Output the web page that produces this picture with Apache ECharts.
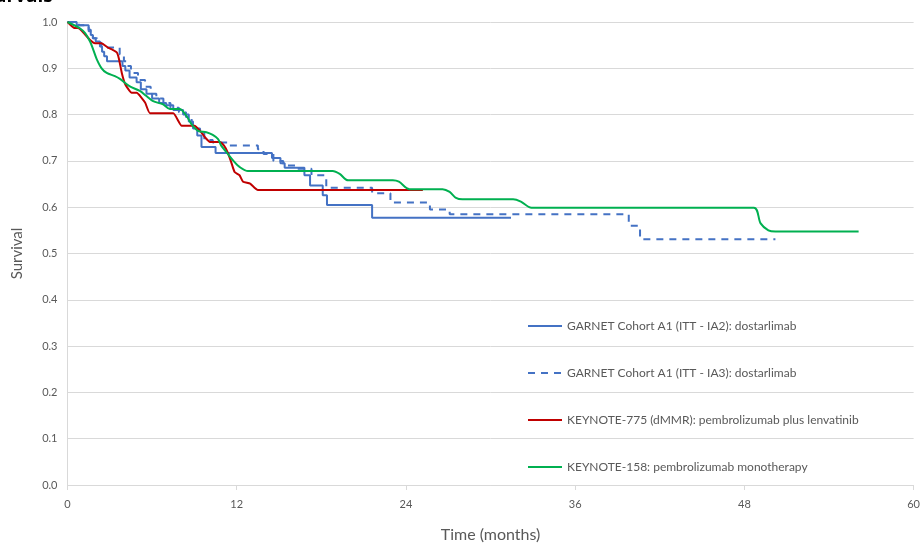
<!DOCTYPE html>
<html>
<head>
<meta charset="utf-8">
<script src="https://cdn.jsdelivr.net/npm/echarts@6/dist/echarts.min.js"></script>
<style>html,body{margin:0;padding:0;background:#fff;}#c{width:923px;height:548px;}</style>
</head>
<body>
<div id="c"></div>
<script>
var seriesNames = [
  'GARNET Cohort A1 (ITT - IA2): dostarlimab',
  'GARNET Cohort A1 (ITT - IA3): dostarlimab',
  'KEYNOTE-775 (dMMR): pembrolizumab plus lenvatinib',
  'KEYNOTE-158: pembrolizumab monotherapy'
];
var xTicks = [0, 12, 24, 36, 48, 60];
var yTicks = [0, 0.1, 0.2, 0.3, 0.4, 0.5, 0.6, 0.7, 0.8, 0.9, 1.0];

var garnetIA2 = [[0,1],[0.65,0.993],[1.5,0.983],[1.65,0.972],[1.8,0.965],[2.0,0.958],[2.3,0.947],[2.45,0.936],[2.6,0.926],[2.8,0.915],[3.9,0.905],[4.1,0.895],[4.4,0.88],[4.9,0.87],[5.2,0.855],[5.6,0.845],[6.0,0.835],[6.5,0.825],[7.0,0.82],[7.5,0.81],[8.2,0.8],[8.6,0.785],[8.9,0.77],[9.2,0.755],[9.5,0.73],[10.5,0.717],[14.5,0.706],[15.1,0.695],[15.4,0.685],[16.8,0.669],[17.2,0.647],[18.1,0.626],[18.4,0.6045],[21.6,0.577],[31.45,0.577]];
var garnetIA3 = [[0,1],[0.8,0.993],[1.5,0.98],[1.8,0.965],[2.1,0.955],[2.4,0.945],[3.7,0.93],[4.0,0.915],[4.2,0.905],[4.5,0.89],[5.0,0.875],[5.5,0.86],[5.9,0.845],[6.3,0.835],[6.8,0.825],[7.3,0.815],[7.9,0.805],[8.4,0.795],[8.8,0.78],[9.1,0.77],[9.4,0.76],[9.7,0.745],[10.3,0.74],[11.5,0.733],[13.5,0.725],[13.9,0.715],[14.6,0.70],[15.3,0.69],[16.2,0.683],[17.3,0.669],[18.35,0.642],[21.6,0.63],[22.9,0.61],[25.7,0.595],[27.1,0.585],[39.8,0.56],[40.6,0.531],[50.2,0.531]];
var keynote775 = [[0,1],[0.5,0.987],[0.75,0.987],[1.6,0.961],[1.95,0.954],[2.4,0.954],[2.9,0.944],[3.2,0.94],[3.5,0.934],[3.65,0.92],[3.85,0.89],[4.1,0.865],[4.55,0.847],[4.9,0.847],[5.5,0.826],[5.85,0.803],[7.5,0.803],[8.1,0.776],[9.0,0.776],[9.4,0.765],[9.75,0.751],[10.1,0.741],[10.8,0.741],[11.1,0.733],[11.35,0.719],[11.6,0.698],[11.85,0.676],[12.2,0.669],[12.45,0.655],[12.95,0.651],[13.5,0.637],[25.2,0.637]];
var keynote158 = [[0,1],[0.9,0.986],[1.25,0.976],[1.6,0.958],[1.83,0.94],[2.07,0.92],[2.42,0.9],[2.78,0.89],[3.36,0.883],[3.72,0.877],[4.42,0.861],[5.13,0.851],[5.6,0.84],[6.07,0.829],[6.78,0.822],[7.26,0.812],[7.96,0.812],[8.44,0.797],[8.8,0.779],[9.26,0.765],[9.85,0.762],[10.3,0.756],[10.68,0.747],[10.9,0.733],[11.27,0.719],[11.74,0.701],[12.2,0.687],[12.8,0.678],[18.8,0.678],[19.3,0.672],[19.9,0.658],[23.07,0.658],[23.5,0.655],[24.25,0.639],[26.6,0.639],[27.1,0.633],[27.55,0.62],[28.0,0.617],[31.6,0.617],[32.15,0.612],[32.9,0.599],[48.67,0.599],[49.15,0.565],[49.7,0.55],[50.2,0.5475],[56.1,0.5475]];

var colors = ['#4472C4', '#4472C4', '#C00000', '#00B050'];
var chart = echarts.init(document.getElementById('c'), null, {renderer: 'canvas'});
var txtColor = '#595959';
chart.setOption({
  animation: false,
  textStyle: {fontFamily: 'Lato'},
  graphic: [{
    type: 'text', left: -6, top: -13,
    style: {text: 'urvals', font: 'bold 19px "Open Sans"', fill: '#000'}
  }],
  grid: {left: 67.5, right: 8, top: 22, bottom: 59, containLabel: false},
  legend: {
    orient: 'vertical', left: 527, top: 320, padding: 0,
    itemWidth: 34, itemHeight: 14, itemGap: 35,
    itemStyle: {opacity: 0},
    textStyle: {color: txtColor, fontSize: 12, fontFamily: 'Lato'},
    data: seriesNames
  },
  xAxis: {
    type: 'value', min: xTicks[0], max: xTicks[xTicks.length - 1], interval: 12,
    name: 'Time (months)', nameLocation: 'middle', nameGap: 42,
    nameTextStyle: {color: txtColor, fontSize: 16, fontFamily: 'Lato'},
    axisLine: {show: true, lineStyle: {color: '#d9d9d9', width: 1}},
    axisTick: {show: true, length: 5, lineStyle: {color: '#d9d9d9'}},
    axisLabel: {color: txtColor, fontSize: 11, margin: 14},
    splitLine: {show: false}
  },
  yAxis: {
    type: 'value', min: yTicks[0], max: yTicks[yTicks.length - 1], interval: 0.1,
    name: 'Survival', nameLocation: 'middle', nameGap: 43, nameRotate: 90,
    nameTextStyle: {color: txtColor, fontSize: 15, fontFamily: 'Lato'},
    axisLine: {show: true, lineStyle: {color: '#d9d9d9', width: 1}},
    axisTick: {show: false},
    axisLabel: {color: txtColor, fontSize: 11, margin: 10, formatter: function (v) { return v.toFixed(1); }},
    splitLine: {show: true, lineStyle: {color: '#d9d9d9', width: 1}}
  },
  series: [
    {name: seriesNames[0], type: 'line', step: 'end', data: garnetIA2, showSymbol: false, symbol: 'none',
     lineStyle: {color: colors[0], width: 2}, itemStyle: {color: colors[0]}},
    {name: seriesNames[1], type: 'line', step: 'end', data: garnetIA3, showSymbol: false, symbol: 'none',
     lineStyle: {color: colors[1], width: 2, type: [7, 6]}, itemStyle: {color: colors[1]}},
    {name: seriesNames[2], type: 'line', data: keynote775, showSymbol: false, symbol: 'none', smooth: 0.15,
     lineStyle: {color: colors[2], width: 2}, itemStyle: {color: colors[2]}},
    {name: seriesNames[3], type: 'line', data: keynote158, showSymbol: false, symbol: 'none', smooth: 0.3,
     lineStyle: {color: colors[3], width: 2}, itemStyle: {color: colors[3]}}
  ]
});
</script>
</body>
</html>
